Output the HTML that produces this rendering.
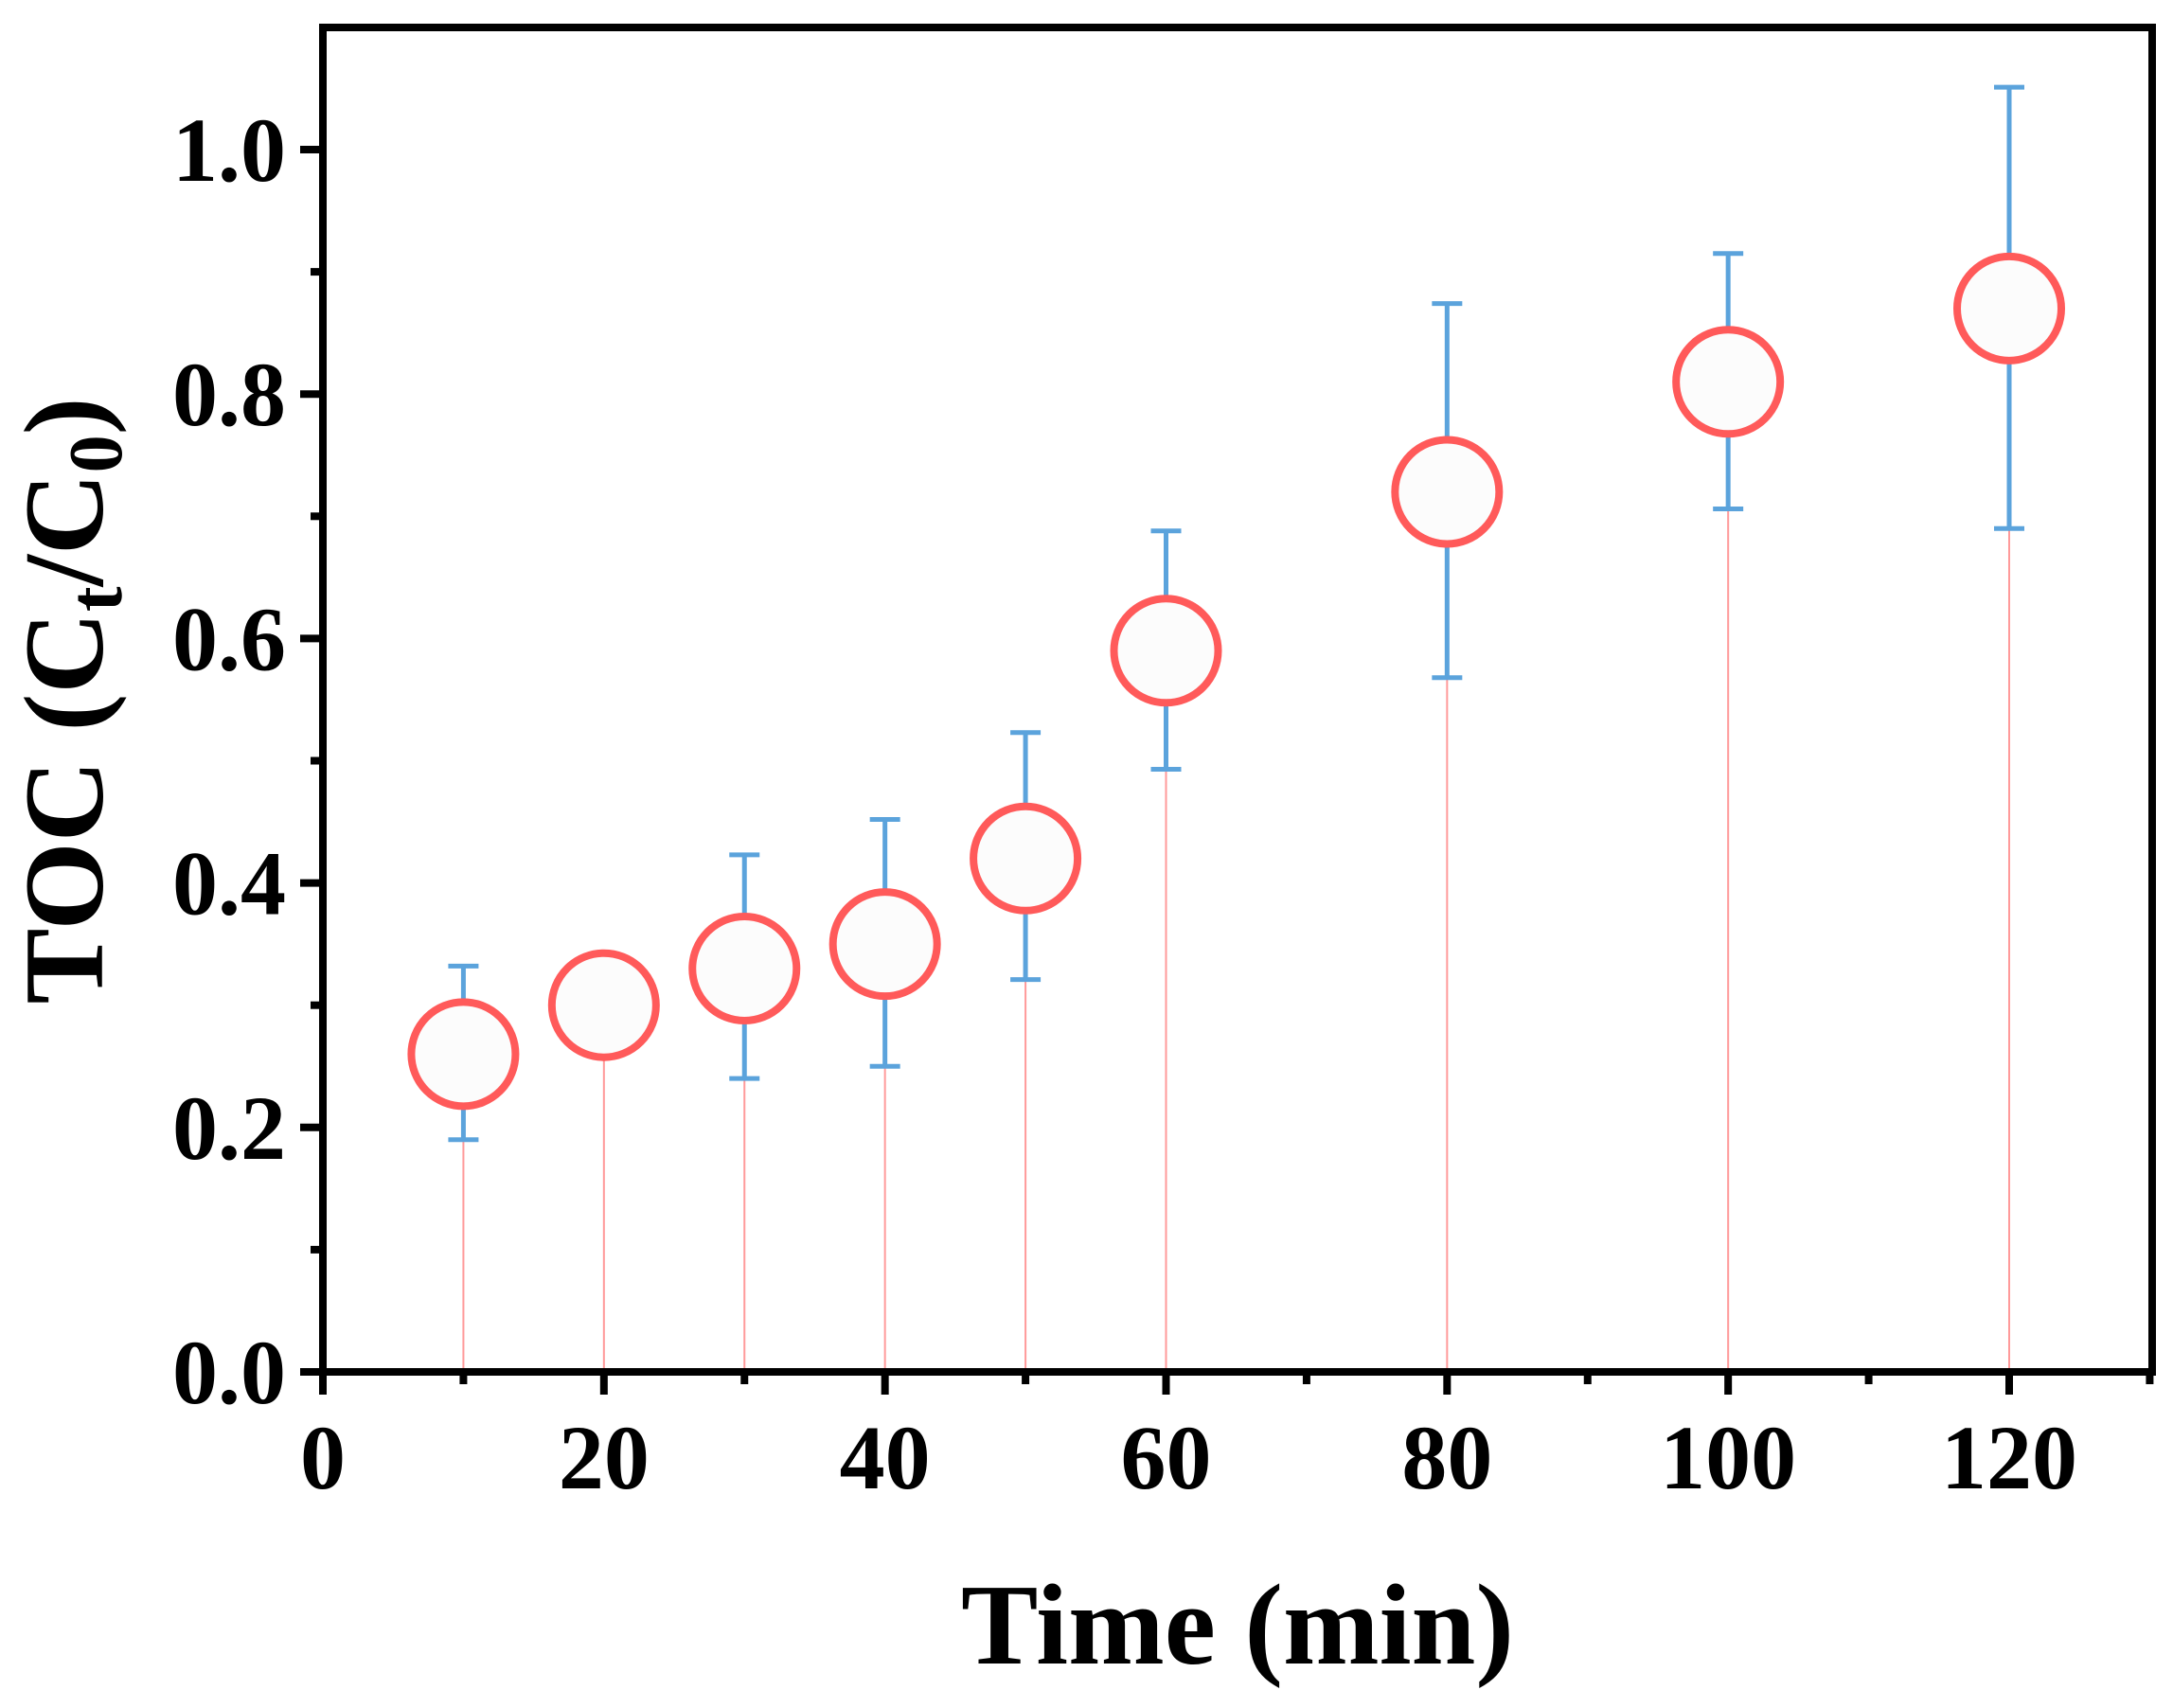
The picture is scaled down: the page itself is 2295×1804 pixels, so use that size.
<!DOCTYPE html>
<html><head><meta charset="utf-8"><style>
body{margin:0;background:#fff}
svg text{font-family:"Liberation Serif","Times New Roman",serif;font-weight:bold;fill:#000}
</style></head><body>
<svg id="chart" width="2295" height="1799" viewBox="0 0 2295 1799" xmlns="http://www.w3.org/2000/svg">
<g id="stems"></g>
<g id="errs"></g>
<g id="pts"></g>
<g id="axes"></g>
<text font-family="Liberation Serif, serif" x="1307" y="1757" font-size="122" text-anchor="middle">Time (min)</text>
<text font-family="Liberation Serif, serif" transform="translate(108,740) rotate(-90)" font-size="120" text-anchor="middle">TOC  (C<tspan font-size="80" dy="20">t</tspan><tspan dy="-20">/C</tspan><tspan font-size="80" dy="20">0</tspan><tspan dy="-20">)</tspan></text>
</svg>
<script>
const times=[10,20,30,40,50,60,80,100,120];
const toc=[0.26,0.30,0.33,0.35,0.42,0.59,0.72,0.81,0.87];
const errUpper=[0.332,0.342,0.423,0.452,0.523,0.688,0.874,0.915,1.051];
const errLower=[0.19,0.26,0.24,0.25,0.321,0.493,0.568,0.706,0.690];
const xTicks=[0,20,40,60,80,100,120];
const yTicks=[0.0,0.2,0.4,0.6,0.8,1.0];
const NS='http://www.w3.org/2000/svg';
const L=341,R=2273,T=29,B=1449;
function xs(v){return 341+v*(2122-341)/120;}
function ys(v){return 1449-v*(1449-158);}
function mk(tag,attrs,parent){const e=document.createElementNS(NS,tag);for(const k in attrs)e.setAttribute(k,attrs[k]);parent.appendChild(e);return e;}
const stems=document.getElementById('stems'),errs=document.getElementById('errs'),pts=document.getElementById('pts'),axes=document.getElementById('axes');
times.forEach((t,i)=>{
  const x=xs(t);
  const s=mk('line',{x1:x,x2:x,y1:ys(0),y2:ys(toc[i]),stroke:'#ff9a9a','stroke-width':2},stems);
  
  
  const g=mk('g',{stroke:'#5ba3dc','stroke-width':5,fill:'none'},errs);
  
  
  mk('line',{x1:x,x2:x,y1:ys(errUpper[i]),y2:ys(errLower[i])},g);
  mk('line',{x1:x-16,x2:x+16,y1:ys(errUpper[i]),y2:ys(errUpper[i])},g);
  mk('line',{x1:x-16,x2:x+16,y1:ys(errLower[i]),y2:ys(errLower[i])},g);
  const c=mk('circle',{cx:x,cy:ys(toc[i]),r:55,fill:'#fcfcfc',stroke:'#ff5a5a','stroke-width':8},pts);
  
  
});
const fr=mk('rect',{x:L,y:T,width:R-L,height:B-T,fill:'none',stroke:'#000','stroke-width':8},axes);


for(let v=0;v<=130;v+=10){
  const major=v%20===0;
  mk('line',{x1:xs(v),x2:xs(v),y1:B,y2:B+(major?24:13),stroke:'#000','stroke-width':8},axes);
}
for(let k=0;k<=10;k++){
  const v=k/10,major=k%2===0;
  mk('line',{x1:L,x2:L-(major?24:13),y1:ys(v),y2:ys(v),stroke:'#000','stroke-width':8},axes);
}
xTicks.forEach(v=>{
  const t=mk('text',{x:xs(v),y:1572,'font-size':96,'text-anchor':'middle','font-family':'Liberation Serif, serif'},axes);
  t.textContent=v;
  
  
});
yTicks.forEach(v=>{
  const t=mk('text',{x:302,y:ys(v)+33,'font-size':96,'text-anchor':'end','font-family':'Liberation Serif, serif'},axes);
  t.textContent=v.toFixed(1);
  
  
});
</script>
</body></html>
